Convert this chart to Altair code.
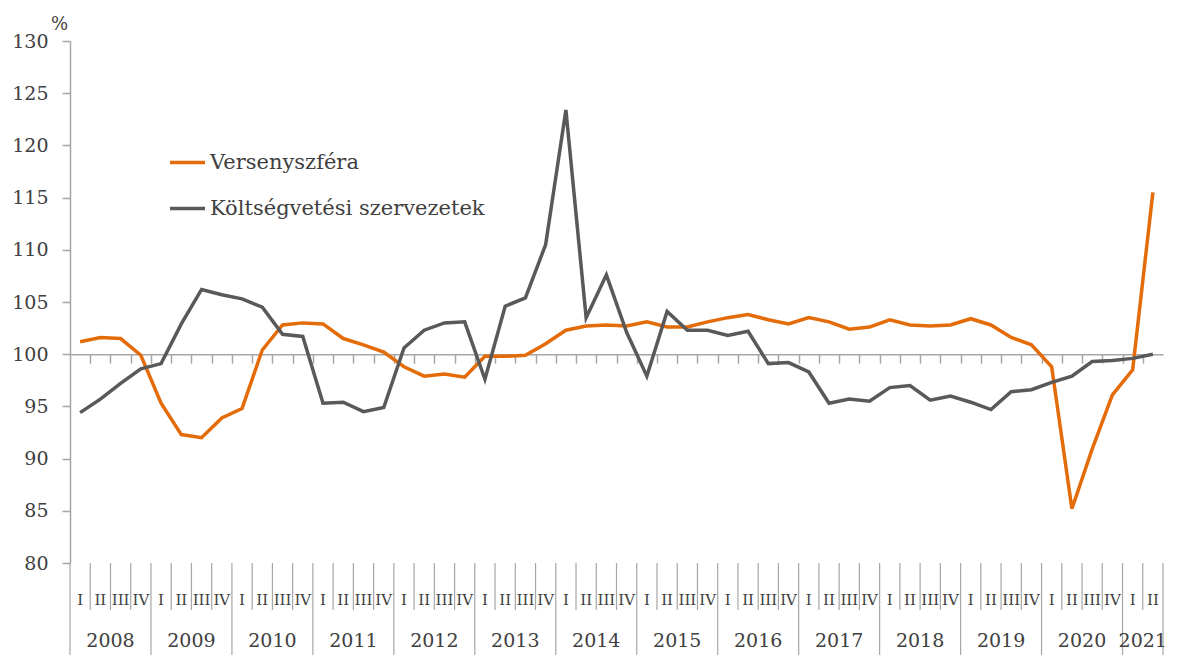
import altair as alt
import pandas as pd

years = [str(y) for y in range(2008, 2022)]
quarter_labels = ["I", "II", "III", "IV"] * 13 + ["I", "II"]
series_names = ["Versenyszféra", "Költségvetési szervezetek"]
series_colors = ["#E36C09", "#595959"]
y_ticks = [80, 85, 90, 95, 100, 105, 110, 115, 120, 125, 130]

verseny = [101.2, 101.6, 101.5, 99.9, 95.3, 92.3, 92.0, 93.9, 94.8, 100.4,
           102.8, 103.0, 102.9, 101.5, 100.9, 100.2, 98.8, 97.9, 98.1, 97.8,
           99.8, 99.8, 99.9, 101.0, 102.3, 102.7, 102.8, 102.7, 103.1, 102.6,
           102.6, 103.1, 103.5, 103.8, 103.3, 102.9, 103.5, 103.1, 102.4, 102.6,
           103.3, 102.8, 102.7, 102.8, 103.4, 102.8, 101.6, 100.9, 98.8, 85.2,
           90.9, 96.1, 98.5, 115.5]
koltseg = [94.4, 95.7, 97.2, 98.6, 99.1, 102.9, 106.2, 105.7, 105.3, 104.5,
           101.9, 101.7, 95.3, 95.4, 94.5, 94.9, 100.6, 102.3, 103.0, 103.1,
           97.6, 104.6, 105.4, 110.5, 123.4, 103.5, 107.6, 102.1, 97.9, 104.1,
           102.3, 102.3, 101.8, 102.2, 99.1, 99.2, 98.3, 95.3, 95.7, 95.5,
           96.8, 97.0, 95.6, 96.0, 95.4, 94.7, 96.4, 96.6, 97.3, 97.9,
           99.3, 99.4, 99.6, 100.0]

n = len(quarter_labels)
idx = list(range(n))
year_of = [years[i // 4] for i in idx]

W, H = 1093, 522
FONT = "DejaVu Serif"
TXT = "#404040"
GRID = "#A6A6A6"

line_df = pd.DataFrame({
    "idx": idx * 2,
    "value": verseny + koltseg,
    "series": [series_names[0]] * n + [series_names[1]] * n,
})
q_df = pd.DataFrame({"idx": idx, "q": quarter_labels})
yr_df = pd.DataFrame({"idx": idx, "year": year_of}).groupby("year", as_index=False)["idx"].mean()
bnd = list(range(n + 1))
b_df = pd.DataFrame({
    "idx": [b - 0.5 for b in bnd],
    "long": [(b % 4 == 0) or (b == n) for b in bnd],
})

xscale = alt.Scale(domain=[-0.5, n - 0.5], nice=False, zero=False)
yscale = alt.Scale(domain=[80, 130], nice=False, zero=False)
xaxis = alt.Axis(values=[i + 0.5 for i in range(n - 1)], labels=False, title=None,
                 grid=False, tickSize=9, tickColor=GRID, tickWidth=1.5,
                 domainColor=GRID, domainWidth=1.5, offset=-H * 20 / 50)
X = alt.X("idx:Q", scale=xscale, axis=xaxis)

lines = alt.Chart(line_df).mark_line(strokeWidth=3.5).encode(
    x=X,
    y=alt.Y("value:Q", scale=yscale, axis=alt.Axis(
        values=y_ticks, grid=False, tickSize=8, tickColor=GRID, tickWidth=1.5,
        domainColor=GRID, domainWidth=1.5, labelFont=FONT, labelFontSize=19,
        labelColor=TXT, labelPadding=14, title="%", titleAngle=0, titleX=-11,
        titleY=-17, titleAlign="center", titleBaseline="middle", titleFont=FONT,
        titleFontSize=18, titleFontWeight="normal", titleColor=TXT)),
    color=alt.Color("series:N", scale=alt.Scale(domain=series_names, range=series_colors),
                    legend=alt.Legend(orient="none", legendX=98, legendY=102, title=None,
                                      symbolType="stroke", symbolStrokeWidth=3.5,
                                      symbolSize=1225, labelFont=FONT, labelFontSize=21,
                                      labelColor=TXT, rowPadding=16, padding=0,
                                      labelOffset=3, labelLimit=0, direction="vertical")),
)

short_rules = alt.Chart(b_df).mark_rule(color=GRID, strokeWidth=1.2).encode(
    x=X, y=alt.value(H), y2=alt.value(H + 47))
long_rules = alt.Chart(b_df).transform_filter("datum.long").mark_rule(color=GRID, strokeWidth=1.2).encode(
    x=X, y=alt.value(H + 47), y2=alt.value(H + 92))
q_text = alt.Chart(q_df).mark_text(font=FONT, fontSize=15, color=TXT, baseline="middle").encode(
    x=X, y=alt.value(H + 37), text="q:N")
y_text = alt.Chart(yr_df).mark_text(font=FONT, fontSize=19, color=TXT, baseline="middle").encode(
    x=X, y=alt.value(H + 78), text="year:N")

chart = alt.layer(short_rules, long_rules, lines, q_text, y_text).properties(
    width=W, height=H,
    autosize=alt.AutoSizeParams(type="none"),
    padding={"left": 62, "top": 33, "right": 7, "bottom": 92},
).configure_view(stroke=None)

chart.save("out.html", embed_options={"renderer": "svg", "actions": False})
